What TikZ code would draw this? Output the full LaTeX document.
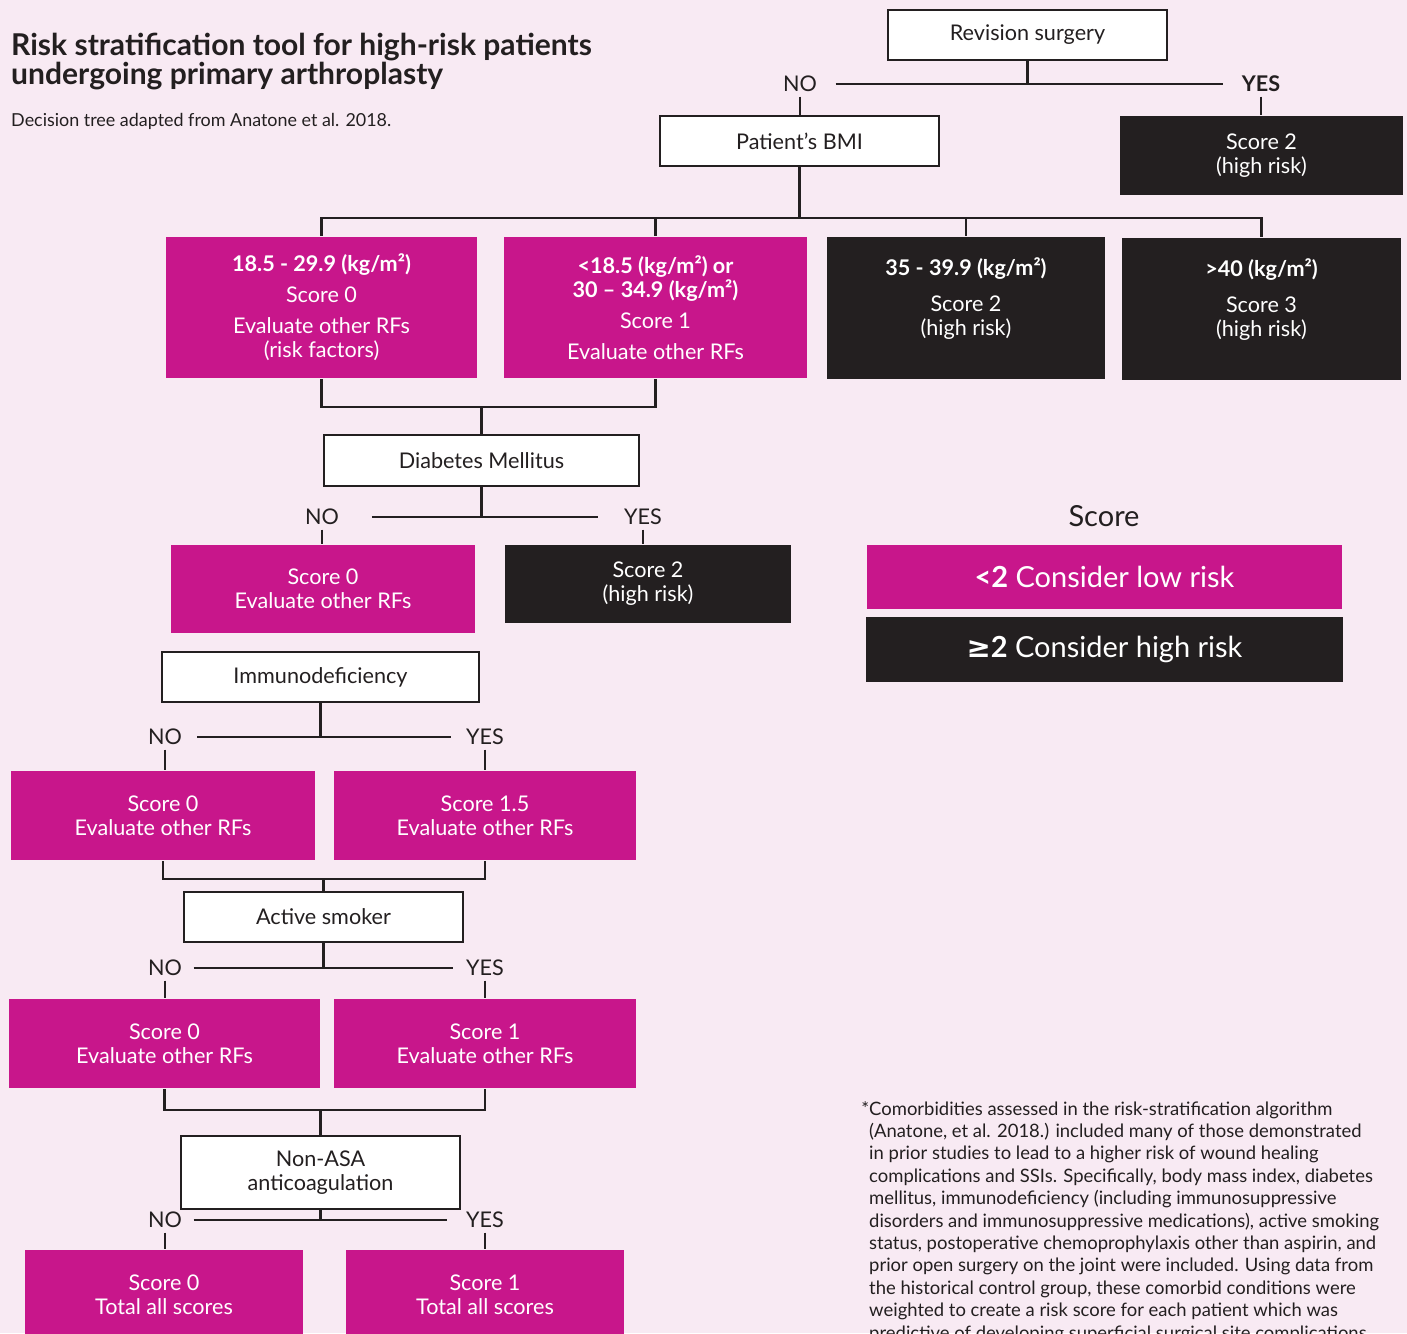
\documentclass[tikz,border=0pt]{standalone}
\usepackage{fontspec}
\setmainfont{Lato}
\newfontfamily\symbolfont{DejaVu Sans}
\definecolor{riskpink}{HTML}{C8168B}
\definecolor{riskdark}{HTML}{231F20}
\definecolor{riskbg}{HTML}{F8EAF3}
\newcommand\riskboxfont{\fontsize{12.3}{13.6}\selectfont}
\newcommand\riskbigfont{\fontsize{16.5}{19}\selectfont}
\newcommand\risknotefont{\fontsize{10.5}{12.75}\selectfont}
\begin{document}
\begin{tikzpicture}[x=0.02cm,y=-0.02cm,line width=1.4pt,color=riskdark,
    qbox/.style={rectangle,draw=riskdark,fill=white,text=riskdark,inner sep=0pt,align=center,font=\riskboxfont},
    pbox/.style={rectangle,fill=riskpink,text=white,inner sep=0pt,align=center,font=\riskboxfont},
    dbox/.style={rectangle,fill=riskdark,text=white,inner sep=0pt,align=center,font=\riskboxfont},
    yn/.style={text=riskdark,inner xsep=8pt,inner ysep=2pt,font=\riskboxfont}]
    \clip (0,0) rectangle (1407,1333);
    \fill [riskbg] (0,0) rectangle (1407,1333);
    % heading
    \node (title) at (10,32) [anchor=north west,inner sep=0pt,align=left,text=riskdark,font=\fontsize{17.1}{16.3}\selectfont\bfseries] {Risk stratification tool for high-risk patients\\undergoing primary arthroplasty};
    \node (subtitle) at (10,121) [anchor=west,inner sep=0pt,text=riskdark,font=\fontsize{10.2}{12}\selectfont] {Decision tree adapted from Anatone et al. 2018.};
    % revision surgery
    \node (rev) at (1027.5,35) [qbox,minimum width=5.58cm,minimum height=1cm] {Revision surgery};
    \node (revno) at (800,84) [yn] {NO};
    \node (revyes) at (1261,84) [yn,font=\riskboxfont\bfseries] {YES};
    \node (bmi) at (799.5,141) [qbox,minimum width=5.58cm,minimum height=1cm] {Patient’s BMI};
    \node (revhigh) at (1261.5,155.5) [dbox,minimum width=5.66cm,minimum height=1.58cm] {Score 2\\(high risk)};
    \draw (rev.south) -- (rev.south |- revno);
    \draw [shorten <=2pt,shorten >=2pt] (revno) -- (revyes);
    \draw (revno.south) -- (revno.south |- bmi.north);
    \draw (revyes.south) -- (revyes.south |- revhigh.north);
    % BMI classes
    \node (b1) at (321.5,307.5) [pbox,minimum width=6.22cm,minimum height=2.82cm] {\textbf{18.5 - 29.9 (kg/m²)}\\[4pt]Score 0\\[4pt]Evaluate other RFs\\(risk factors)};
    \node (b2) at (655.5,307.5) [pbox,minimum width=6.06cm,minimum height=2.82cm] {\textbf{<18.5 (kg/m²) or}\\\textbf{30 – 34.9 (kg/m²)}\\[4pt]Score 1\\[4pt]Evaluate other RFs};
    \node (b3) at (966,308) [dbox,minimum width=5.56cm,minimum height=2.84cm] {\textbf{35 - 39.9 (kg/m²)}\\[7pt]Score 2\\(high risk)\\[-1pt]};
    \node (b4) at (1261.5,309) [dbox,minimum width=5.58cm,minimum height=2.84cm] {\textbf{>40 (kg/m²)}\\[7pt]Score 3\\(high risk)\\[-1pt]};
    \coordinate (bmij) at (799.5,218);
    \draw (bmi.south) -- (bmij);
    \draw (b1.north) |- (b4.north |- bmij) -- (b4.north);
    \draw (b2.north) -- (b2.north |- bmij);
    \draw (b3.north) -- (b3.north |- bmij);
    % diabetes
    \node (dm) at (481.5,460.5) [qbox,minimum width=6.3cm,minimum height=1.02cm] {Diabetes Mellitus};
    \coordinate (dmj) at (481.5,407);
    \draw (b1.south) |- (dmj) -| (b2.south);
    \draw (dmj) -- (dm.north);
    \node (dmno) at (322,517) [yn] {NO};
    \node (dmyes) at (643,517) [yn] {YES};
    \draw (dm.south) -- (dm.south |- dmno);
    \draw [shorten <=10pt,shorten >=6pt] (dmno) -- (dmyes);
    \node (dmlow) at (323,589) [pbox,minimum width=6.08cm,minimum height=1.76cm] {Score 0\\Evaluate other RFs};
    \node (dmhigh) at (648,584) [dbox,minimum width=5.72cm,minimum height=1.56cm] {Score 2\\(high risk)};
    \draw (dmno.south) -- (dmno.south |- dmlow.north);
    \draw (dmyes.south) -- (dmyes.south |- dmhigh.north);
    % immunodeficiency
    \node (imm) at (320.5,677) [qbox,minimum width=6.34cm,minimum height=1cm] {Immunodeficiency};
    \node (immno) at (165,737) [yn] {NO};
    \node (immyes) at (485,737) [yn] {YES};
    \draw (imm.south) -- (imm.south |- immno);
    \draw (immno) -- (immyes);
    \node (immlow) at (163,815.5) [pbox,minimum width=6.08cm,minimum height=1.78cm] {Score 0\\Evaluate other RFs};
    \node (immhigh) at (485,815.5) [pbox,minimum width=6.04cm,minimum height=1.78cm] {Score 1.5\\Evaluate other RFs};
    \draw (immno.south) -- (immno.south |- immlow.north);
    \draw (immyes.south) -- (immyes.south |- immhigh.north);
    % active smoker
    \node (sm) at (323.5,917) [qbox,minimum width=5.58cm,minimum height=1cm] {Active smoker};
    \coordinate (smj) at (323.5,879);
    \draw (immlow.south) |- (smj) -| (immhigh.south);
    \draw (smj) -- (sm.north);
    \node (smno) at (165,968) [yn] {NO};
    \node (smyes) at (485,968) [yn] {YES};
    \draw (sm.south) -- (sm.south |- smno);
    \draw [shorten <=-2pt,shorten >=-1pt] (smno) -- (smyes);
    \node (smlow) at (164.5,1043.5) [pbox,minimum width=6.22cm,minimum height=1.78cm] {Score 0\\Evaluate other RFs};
    \node (smhigh) at (485,1043.5) [pbox,minimum width=6.04cm,minimum height=1.78cm] {Score 1\\Evaluate other RFs};
    \draw (smno.south) -- (smno.south |- smlow.north);
    \draw (smyes.south) -- (smyes.south |- smhigh.north);
    % anticoagulation
    \node (ac) at (320.5,1172.5) [qbox,minimum width=5.58cm,minimum height=1.46cm] {Non-ASA\\anticoagulation};
    \coordinate (acj) at (320.5,1110);
    \draw (smlow.south) |- (acj) -| (smhigh.south);
    \draw (acj) -- (ac.north);
    \node (acno) at (165,1220) [yn] {NO};
    \node (acyes) at (485,1220) [yn] {YES};
    \draw (ac.south) -- (ac.south |- acno);
    \draw [shorten <=-2pt,shorten >=2pt] (acno) -- (acyes);
    \node (aclow) at (164,1294.5) [pbox,minimum width=5.56cm,minimum height=1.78cm] {Score 0\\Total all scores};
    \node (achigh) at (485,1294.5) [pbox,minimum width=5.56cm,minimum height=1.78cm] {Score 1\\Total all scores};
    \draw (acno.south) -- (acno.south |- aclow.north);
    \draw (acyes.south) -- (acyes.south |- achigh.north);
    % score key
    \node (scorehead) at (1104,516) [text=riskdark,font=\riskbigfont] {Score};
    \node (low) at (1104.5,577) [pbox,minimum width=9.5cm,minimum height=1.28cm,font=\riskbigfont] {\textbf{<2} Consider low risk};
    \node (high) at (1104.5,649.5) [dbox,minimum width=9.54cm,minimum height=1.3cm,font=\riskbigfont] {{\symbolfont\bfseries ≥}\textbf{2} Consider high risk};
    % footnote
    \node (note) at (868,1100) [anchor=north west,inner sep=0pt,align=left,text=riskdark,font=\risknotefont] {\llap{*}Comorbidities assessed in the risk-stratification algorithm\\
      (Anatone, et al. 2018.) included many of those demonstrated\\
      in prior studies to lead to a higher risk of wound healing\\
      complications and SSIs. Specifically, body mass index, diabetes\\
      mellitus, immunodeficiency (including immunosuppressive\\
      disorders and immunosuppressive medications), active smoking\\
      status, postoperative chemoprophylaxis other than aspirin, and\\
      prior open surgery on the joint were included. Using data from\\
      the historical control group, these comorbid conditions were\\
      weighted to create a risk score for each patient which was\\
      predictive of developing superficial surgical site complications};
\end{tikzpicture}
\end{document}
